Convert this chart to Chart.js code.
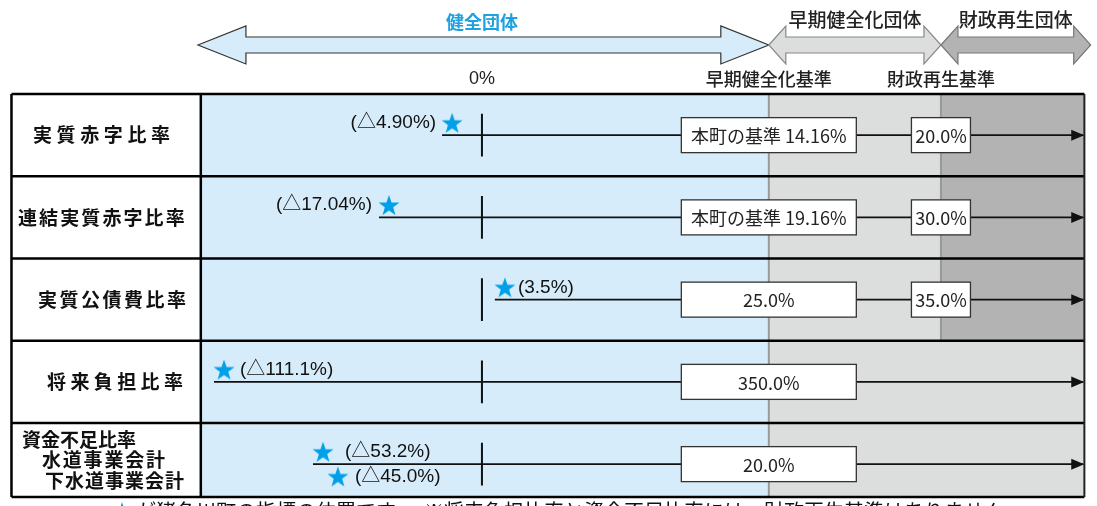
<!DOCTYPE html>
<html><head><meta charset="utf-8">
<script src="https://cdn.jsdelivr.net/npm/chart.js@4"></script>
<style>html,body{margin:0;padding:0;background:#fff;}canvas{display:block;}</style>
</head><body>
<canvas id="c" width="1097" height="506"></canvas>
<script>
// ---------------- DATA ----------------
const categories = ['実質赤字比率', '連結実質赤字比率', '実質公債費比率', '将来負担比率', '資金不足比率'];
const subCategories = [[], [], [], [], ['水道事業会計', '下水道事業会計']];
const earlyStandardLabels = ['本町の基準 14.16%', '本町の基準 19.16%', '25.0%', '350.0%', '20.0%'];
const rebuildStandardLabels = ['20.0%', '30.0%', '35.0%', null, null];
const indicatorLabels = ['(△4.90%)', '(△17.04%)', '(3.5%)', '(△111.1%)', '(△53.2%)', '(△45.0%)'];
const indicatorRows = [0, 1, 2, 3, 4, 4];
// position on the schematic axis (0 = 0%, 100 = early-soundness standard, 160 = rebuilding standard)
const indicatorPositions = [-10.4, -32.4, 8.0, -89.9, -55.4, -50.2];
const zoneLabels = ['健全団体', '早期健全化団体', '財政再生団体'];
const thresholdLabels = ['0%', '早期健全化基準', '財政再生基準'];
const thresholdPositions = [0, 100, 160];
const footnoteStar = '★';
const footnoteText = 'が猪名川町の指標の位置です。　※将来負担比率と資金不足比率には、財政再生基準はありません';

// ---------------- LAYOUT / STYLE ----------------
const X_MIN = -168, X_MAX = 214.4;          // schematic axis range
const Y_MIN = -1.1429, Y_MAX = 5.0091;      // row axis range (row i spans i..i+1)
const X_TABLE_LEFT = -164, X_LABEL_COL = -98, X_TABLE_RIGHT = 210;
const TABLE_BOTTOM = 4.9;
const X_EARLY = thresholdPositions[1], X_REBUILD = thresholdPositions[2];
const STAR_OFFSET = 0.15, TICK_HALF = 0.26;
const markerLayout = [
  {side: 'left', dir: -1, gap: 16}, {side: 'left', dir: -1, gap: 17}, {side: 'right', dir: -1, gap: 13},
  {side: 'right', dir: -1, gap: 16}, {side: 'right', dir: -1, gap: 22}, {side: 'right', dir: 1, gap: 17}
];
const catStyle = [{x: 33, sp: 4.6}, {x: 18, sp: 2.1}, {x: 38, sp: 2.5}, {x: 47, sp: 4.4}, {x: 22, sp: 0}];
const subStyle = [{x: 42, sp: 1.8, y: 460}, {x: 45, sp: 1.0, y: 481}];
const COLORS = {
  blue: 'rgb(214,236,250)', light: 'rgb(220,221,221)', dark: 'rgb(179,179,179)',
  star: 'rgb(0,160,233)', zoneText: 'rgb(30,160,225)', text: '#222'
};
const CJK = '"Noto Sans CJK JP", "Noto Sans", sans-serif';
const LAT = '"Liberation Sans", Arial, "Noto Sans CJK JP", sans-serif';

// star image for point style
function makeStar(R, color) {
  const c = document.createElement('canvas');
  const s = Math.ceil(R * 2 + 2);
  c.width = s; c.height = s;
  const g = c.getContext('2d');
  g.fillStyle = color;
  g.beginPath();
  for (let i = 0; i < 10; i++) {
    const r = i % 2 === 0 ? R : R * 0.4;
    const a = -Math.PI / 2 + i * Math.PI / 5;
    const x = s / 2 + r * Math.cos(a), y = s / 2 + 1 + r * Math.sin(a);
    i === 0 ? g.moveTo(x, y) : g.lineTo(x, y);
  }
  g.closePath(); g.fill();
  return c;
}
const starImg = makeStar(11, COLORS.star);

// ---------------- DATASETS ----------------
const datasets = [];
datasets.push({
  label: 'indicators', type: 'scatter', order: 0,
  data: indicatorPositions.map((v, i) => ({x: v, y: indicatorRows[i] + 0.5 + markerLayout[i].dir * STAR_OFFSET})),
  pointStyle: starImg, pointRadius: 11, pointHoverRadius: 11, showLine: false
});
categories.forEach((c, r) => {
  const ps = indicatorPositions.filter((_, i) => indicatorRows[i] === r);
  const start = Math.min(...ps) - 3.5;
  datasets.push({
    label: 'line' + r, type: 'line', order: 2,
    data: [{x: start, y: r + 0.5}, {x: X_TABLE_RIGHT - 0.4, y: r + 0.5}],
    borderColor: '#111', borderWidth: 1.6, pointRadius: 0, fill: false, tension: 0
  });
  datasets.push({
    label: 'tick' + r, type: 'line', order: 1,
    data: [{x: thresholdPositions[0], y: r + 0.5 - TICK_HALF}, {x: thresholdPositions[0], y: r + 0.5 + TICK_HALF}],
    borderColor: '#111', borderWidth: 2, pointRadius: 0, fill: false
  });
});

// ---------------- PLUGINS ----------------
function spacedText(ctx, text, x, y, sp) {
  let cx = x;
  for (const ch of text) { ctx.fillText(ch, cx, y); cx += ctx.measureText(ch).width + sp; }
}
function doubleArrow(ctx, x1, x2, yc, head, hh, sh, fill, stroke) {
  ctx.beginPath();
  ctx.moveTo(x1, yc);
  ctx.lineTo(x1 + head, yc - hh); ctx.lineTo(x1 + head, yc - sh);
  ctx.lineTo(x2 - head, yc - sh); ctx.lineTo(x2 - head, yc - hh);
  ctx.lineTo(x2, yc);
  ctx.lineTo(x2 - head, yc + hh); ctx.lineTo(x2 - head, yc + sh);
  ctx.lineTo(x1 + head, yc + sh); ctx.lineTo(x1 + head, yc + hh);
  ctx.closePath();
  ctx.fillStyle = fill; ctx.fill();
  ctx.strokeStyle = stroke; ctx.lineWidth = 1.2; ctx.stroke();
}

const backgroundPlugin = {
  id: 'bg',
  beforeDatasetsDraw(chart) {
    const ctx = chart.ctx, X = v => chart.scales.x.getPixelForValue(v), Y = v => chart.scales.y.getPixelForValue(v);
    ctx.save();
    categories.forEach((c, r) => {
      const y0 = Y(r), y1 = Y(Math.min(r + 1, TABLE_BOTTOM));
      const hasRebuild = rebuildStandardLabels[r] !== null;
      ctx.fillStyle = '#fff'; ctx.fillRect(X(X_TABLE_LEFT), y0, X(X_LABEL_COL) - X(X_TABLE_LEFT), y1 - y0);
      ctx.fillStyle = COLORS.blue; ctx.fillRect(X(X_LABEL_COL), y0, X(X_EARLY) - X(X_LABEL_COL), y1 - y0);
      const grayEnd = hasRebuild ? X_REBUILD : X_TABLE_RIGHT;
      ctx.fillStyle = COLORS.light; ctx.fillRect(X(X_EARLY), y0, X(grayEnd) - X(X_EARLY), y1 - y0);
      if (hasRebuild) { ctx.fillStyle = COLORS.dark; ctx.fillRect(X(X_REBUILD), y0, X(X_TABLE_RIGHT) - X(X_REBUILD), y1 - y0); }
      ctx.strokeStyle = '#999'; ctx.lineWidth = 2;
      ctx.beginPath(); ctx.moveTo(X(X_EARLY), y0); ctx.lineTo(X(X_EARLY), y1);
      if (hasRebuild) { ctx.moveTo(X(X_REBUILD), y0); ctx.lineTo(X(X_REBUILD), y1); }
      ctx.stroke();
    });
    ctx.strokeStyle = '#000'; ctx.lineWidth = 2.5;
    ctx.beginPath();
    for (let r = 0; r <= categories.length; r++) {
      const yy = Y(Math.min(r, TABLE_BOTTOM));
      ctx.moveTo(X(X_TABLE_LEFT), yy); ctx.lineTo(X(X_TABLE_RIGHT), yy);
    }
    [X_TABLE_LEFT, X_LABEL_COL].forEach(v => { ctx.moveTo(X(v), Y(0)); ctx.lineTo(X(v), Y(TABLE_BOTTOM)); });
    ctx.stroke();
    ctx.lineWidth = 2; ctx.strokeStyle = '#222';
    ctx.beginPath(); ctx.moveTo(X(X_TABLE_RIGHT), Y(0)); ctx.lineTo(X(X_TABLE_RIGHT), Y(TABLE_BOTTOM)); ctx.stroke();

    const ay = Y(-0.596), hh = 19, sh = 8;
    doubleArrow(ctx, X(X_LABEL_COL - 1), X(X_EARLY), ay, 48, hh, sh, COLORS.blue, '#333');
    doubleArrow(ctx, X(X_EARLY), X(X_REBUILD), ay, 17, hh, sh, COLORS.light, '#888');
    doubleArrow(ctx, X(X_REBUILD), X(X_TABLE_RIGHT + 2.2), ay, 17, hh, sh, COLORS.dark, '#777');
    ctx.textAlign = 'center'; ctx.textBaseline = 'middle';
    ctx.font = 'bold 18px ' + CJK; ctx.fillStyle = COLORS.zoneText;
    ctx.fillText(zoneLabels[0], X(thresholdPositions[0]), 22);
    ctx.font = '500 19px ' + CJK; ctx.fillStyle = '#222';
    ctx.fillText(zoneLabels[1], (X(X_EARLY) + X(X_REBUILD)) / 2, 20);
    ctx.fillText(zoneLabels[2], (X(X_REBUILD) + X(X_TABLE_RIGHT + 2.2)) / 2, 20);
    ctx.font = '18px ' + LAT;
    ctx.fillText(thresholdLabels[0], X(thresholdPositions[0]), 79);
    ctx.font = '500 18px ' + CJK;
    ctx.fillText(thresholdLabels[1], X(thresholdPositions[1]), 79);
    ctx.fillText(thresholdLabels[2], X(thresholdPositions[2]), 79);

    ctx.textAlign = 'left'; ctx.fillStyle = '#111';
    ctx.font = 'bold 19px ' + CJK;
    categories.forEach((c, r) => {
      const st = catStyle[r];
      if (subCategories[r].length === 0) {
        spacedText(ctx, c, st.x, Y(r + 0.5), st.sp);
      } else {
        spacedText(ctx, c, st.x, 440, st.sp);
        subCategories[r].forEach((s, k) => spacedText(ctx, s, subStyle[k].x, subStyle[k].y, subStyle[k].sp));
      }
    });
    ctx.restore();
  }
};

const overlayPlugin = {
  id: 'overlay',
  afterDatasetsDraw(chart) {
    const ctx = chart.ctx, X = v => chart.scales.x.getPixelForValue(v), Y = v => chart.scales.y.getPixelForValue(v);
    ctx.save();
    categories.forEach((c, r) => {
      const p = chart.getDatasetMeta(1 + r * 2).data[1];
      ctx.fillStyle = '#111';
      ctx.beginPath();
      ctx.moveTo(p.x + 1, p.y); ctx.lineTo(p.x - 12, p.y - 5.5); ctx.lineTo(p.x - 12, p.y + 5.5);
      ctx.closePath(); ctx.fill();
    });
    ctx.textAlign = 'center'; ctx.textBaseline = 'middle';
    ctx.font = '18px ' + CJK;
    categories.forEach((c, r) => {
      const yc = Y(r + 0.5);
      const boxes = [[earlyStandardLabels[r], X_EARLY, 175]];
      if (rebuildStandardLabels[r] !== null) boxes.push([rebuildStandardLabels[r], X_REBUILD, 59]);
      boxes.forEach(([t, v, w]) => {
        const xc = X(v);
        ctx.fillStyle = '#fff'; ctx.fillRect(xc - w / 2, yc - 17.5, w, 35);
        ctx.strokeStyle = '#333'; ctx.lineWidth = 1.3; ctx.strokeRect(xc - w / 2, yc - 17.5, w, 35);
        ctx.fillStyle = '#222'; ctx.fillText(t, xc, yc + 1);
      });
    });
    const stars = chart.getDatasetMeta(0).data;
    ctx.font = '19px ' + LAT; ctx.fillStyle = '#111';
    indicatorLabels.forEach((t, i) => {
      const p = stars[i], L = markerLayout[i];
      if (L.side === 'left') { ctx.textAlign = 'right'; ctx.fillText(t, p.x - L.gap, p.y); }
      else { ctx.textAlign = 'left'; ctx.fillText(t, p.x + L.gap, p.y); }
    });
    ctx.textAlign = 'left'; ctx.font = '20px ' + CJK;
    ctx.fillStyle = COLORS.star; ctx.fillText(footnoteStar, 112, 511);
    ctx.fillStyle = '#111'; ctx.fillText(footnoteText, 136, 511);
    ctx.restore();
  }
};

new Chart(document.getElementById('c'), {
  type: 'scatter',
  data: {datasets},
  options: {
    responsive: false, animation: false, events: [],
    layout: {padding: 0, autoPadding: false},
    plugins: {legend: {display: false}, tooltip: {enabled: false}},
    scales: {
      x: {type: 'linear', min: X_MIN, max: X_MAX, display: false},
      y: {type: 'linear', min: Y_MIN, max: Y_MAX, reverse: true, display: false}
    }
  },
  plugins: [backgroundPlugin, overlayPlugin]
});
</script>
</body></html>
